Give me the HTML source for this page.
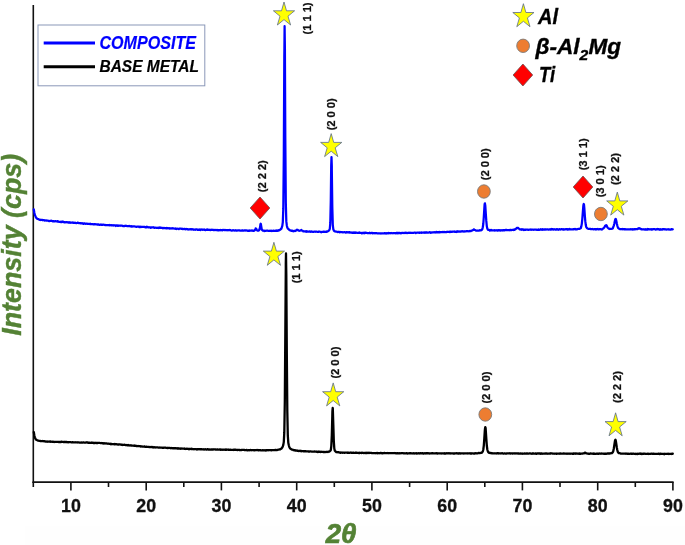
<!DOCTYPE html>
<html><head><meta charset="utf-8"><title>XRD pattern</title>
<style>
html,body{margin:0;padding:0;background:#fff;}
svg{display:block;font-family:"Liberation Sans",sans-serif;}
</style></head><body>
<svg width="685" height="545" viewBox="0 0 685 545">
<rect width="685" height="545" fill="#fff"/>
<rect x="25" y="526.5" width="660" height="18.5" fill="#fefefe"/>
<line x1="33.3" y1="5" x2="33.3" y2="483" stroke="#111" stroke-width="1.6"/>
<line x1="32.5" y1="482.2" x2="673.6" y2="482.2" stroke="#111" stroke-width="1.7"/>
<line x1="33.3" y1="482" x2="33.3" y2="487" stroke="#111" stroke-width="1.6"/>
<line x1="70.9" y1="482" x2="70.9" y2="490.4" stroke="#111" stroke-width="1.6"/>
<text x="70.9" y="511.5" text-anchor="middle" font-size="17.8" font-weight="bold" fill="#111" stroke="#111" stroke-width="0.3">10</text>
<line x1="108.5" y1="482" x2="108.5" y2="487" stroke="#111" stroke-width="1.6"/>
<line x1="146.2" y1="482" x2="146.2" y2="490.4" stroke="#111" stroke-width="1.6"/>
<text x="146.2" y="511.5" text-anchor="middle" font-size="17.8" font-weight="bold" fill="#111" stroke="#111" stroke-width="0.3">20</text>
<line x1="183.8" y1="482" x2="183.8" y2="487" stroke="#111" stroke-width="1.6"/>
<line x1="221.4" y1="482" x2="221.4" y2="490.4" stroke="#111" stroke-width="1.6"/>
<text x="221.4" y="511.5" text-anchor="middle" font-size="17.8" font-weight="bold" fill="#111" stroke="#111" stroke-width="0.3">30</text>
<line x1="259.1" y1="482" x2="259.1" y2="487" stroke="#111" stroke-width="1.6"/>
<line x1="296.7" y1="482" x2="296.7" y2="490.4" stroke="#111" stroke-width="1.6"/>
<text x="296.7" y="511.5" text-anchor="middle" font-size="17.8" font-weight="bold" fill="#111" stroke="#111" stroke-width="0.3">40</text>
<line x1="334.3" y1="482" x2="334.3" y2="487" stroke="#111" stroke-width="1.6"/>
<line x1="371.9" y1="482" x2="371.9" y2="490.4" stroke="#111" stroke-width="1.6"/>
<text x="371.9" y="511.5" text-anchor="middle" font-size="17.8" font-weight="bold" fill="#111" stroke="#111" stroke-width="0.3">50</text>
<line x1="409.6" y1="482" x2="409.6" y2="487" stroke="#111" stroke-width="1.6"/>
<line x1="447.2" y1="482" x2="447.2" y2="490.4" stroke="#111" stroke-width="1.6"/>
<text x="447.2" y="511.5" text-anchor="middle" font-size="17.8" font-weight="bold" fill="#111" stroke="#111" stroke-width="0.3">60</text>
<line x1="484.8" y1="482" x2="484.8" y2="487" stroke="#111" stroke-width="1.6"/>
<line x1="522.4" y1="482" x2="522.4" y2="490.4" stroke="#111" stroke-width="1.6"/>
<text x="522.4" y="511.5" text-anchor="middle" font-size="17.8" font-weight="bold" fill="#111" stroke="#111" stroke-width="0.3">70</text>
<line x1="560.0" y1="482" x2="560.0" y2="487" stroke="#111" stroke-width="1.6"/>
<line x1="597.7" y1="482" x2="597.7" y2="490.4" stroke="#111" stroke-width="1.6"/>
<text x="597.7" y="511.5" text-anchor="middle" font-size="17.8" font-weight="bold" fill="#111" stroke="#111" stroke-width="0.3">80</text>
<line x1="635.3" y1="482" x2="635.3" y2="487" stroke="#111" stroke-width="1.6"/>
<line x1="672.9" y1="482" x2="672.9" y2="490.4" stroke="#111" stroke-width="1.6"/>
<text x="672.9" y="511.5" text-anchor="middle" font-size="17.8" font-weight="bold" fill="#111" stroke="#111" stroke-width="0.3">90</text>
<path d="M33.8,209.43 L34.3,212.55 L34.8,214.72 L35.3,215.91 L35.8,217.18 L36.3,217.87 L36.8,218.41 L37.3,218.68 L37.8,219.04 L38.3,219.18 L38.8,219.22 L39.3,219.71 L39.8,219.84 L40.3,220.07 L40.8,219.88 L41.3,219.87 L41.8,219.92 L42.3,219.82 L42.8,220.29 L43.3,220.02 L43.8,220.06 L44.3,220.28 L44.8,220.61 L45.3,220.47 L45.8,220.33 L46.3,220.44 L46.8,220.71 L47.3,220.65 L47.8,220.61 L48.3,220.76 L48.8,220.97 L49.3,221.23 L49.8,220.78 L50.3,220.92 L50.8,220.93 L51.3,220.71 L51.8,220.98 L52.3,221.01 L52.8,221.39 L53.3,221.22 L53.8,221.02 L54.3,221.42 L54.8,221.30 L55.3,221.11 L55.8,221.33 L56.3,221.37 L56.8,221.36 L57.3,221.54 L57.8,221.22 L58.3,221.57 L58.8,221.81 L59.3,221.82 L59.8,221.90 L60.3,221.94 L60.8,222.04 L61.3,221.66 L61.8,222.01 L62.3,221.61 L62.8,221.85 L63.3,221.68 L63.8,222.19 L64.3,222.27 L64.8,222.06 L65.3,222.42 L65.8,222.06 L66.3,222.23 L66.8,222.27 L67.3,222.11 L67.8,222.39 L68.3,222.66 L68.8,222.23 L69.3,222.57 L69.8,222.44 L70.3,222.78 L70.8,222.62 L71.3,222.68 L71.8,222.72 L72.3,222.69 L72.8,222.46 L73.3,222.95 L73.8,222.54 L74.3,222.84 L74.8,222.93 L75.3,222.74 L75.8,222.93 L76.3,223.13 L76.8,222.98 L77.3,222.88 L77.8,222.59 L78.3,222.94 L78.8,223.04 L79.3,223.08 L79.8,223.05 L80.3,223.30 L80.8,223.19 L81.3,223.30 L81.8,223.46 L82.3,223.25 L82.8,223.38 L83.3,223.81 L83.8,223.64 L84.3,223.33 L84.8,223.56 L85.3,223.70 L85.8,223.85 L86.3,223.71 L86.8,223.64 L87.3,223.64 L87.8,223.90 L88.3,223.88 L88.8,223.79 L89.3,223.88 L89.8,223.88 L90.3,224.10 L90.8,223.91 L91.3,224.13 L91.8,224.23 L92.3,224.21 L92.8,224.03 L93.3,224.42 L93.8,224.13 L94.3,224.35 L94.8,224.19 L95.3,224.07 L95.8,224.42 L96.3,224.47 L96.8,224.45 L97.3,224.54 L97.8,224.43 L98.3,224.45 L98.8,224.58 L99.3,224.95 L99.8,224.81 L100.3,224.63 L100.8,224.83 L101.3,224.69 L101.8,224.72 L102.3,224.95 L102.8,224.76 L103.3,224.60 L103.8,224.75 L104.3,224.93 L104.8,224.97 L105.3,225.17 L105.8,224.88 L106.3,225.14 L106.8,225.12 L107.3,225.05 L107.8,225.23 L108.3,225.21 L108.8,225.01 L109.3,225.35 L109.8,225.01 L110.3,225.24 L110.8,225.26 L111.3,225.35 L111.8,225.19 L112.3,225.33 L112.8,225.34 L113.3,225.54 L113.8,225.28 L114.3,225.45 L114.8,225.42 L115.3,225.28 L115.8,225.94 L116.3,225.53 L116.8,225.33 L117.3,225.82 L117.8,225.45 L118.3,225.70 L118.8,225.81 L119.3,225.59 L119.8,225.65 L120.3,225.66 L120.8,225.75 L121.3,225.54 L121.8,225.62 L122.3,225.83 L122.8,226.04 L123.3,226.00 L123.8,226.20 L124.3,226.06 L124.8,225.90 L125.3,225.98 L125.8,225.70 L126.3,225.90 L126.8,225.92 L127.3,226.15 L127.8,226.24 L128.3,226.07 L128.8,226.09 L129.3,225.96 L129.8,226.21 L130.3,226.30 L130.8,226.36 L131.3,226.19 L131.8,226.66 L132.3,226.56 L132.8,226.37 L133.3,226.33 L133.8,226.39 L134.3,226.49 L134.8,226.49 L135.3,226.60 L135.8,226.67 L136.3,226.79 L136.8,226.78 L137.3,226.60 L137.8,226.71 L138.3,226.61 L138.8,226.61 L139.3,227.03 L139.8,226.68 L140.3,227.10 L140.8,226.75 L141.3,226.87 L141.8,227.03 L142.3,226.88 L142.8,226.97 L143.3,226.89 L143.8,226.88 L144.3,226.96 L144.8,226.90 L145.3,227.30 L145.8,227.03 L146.3,227.36 L146.8,226.68 L147.3,227.14 L147.8,227.25 L148.3,227.14 L148.8,227.39 L149.3,227.34 L149.8,227.22 L150.3,227.36 L150.8,227.77 L151.3,227.38 L151.8,227.42 L152.3,227.32 L152.8,227.44 L153.3,227.24 L153.8,227.44 L154.3,227.89 L154.8,227.69 L155.3,227.65 L155.8,227.75 L156.3,227.90 L156.8,227.72 L157.3,227.98 L157.8,227.85 L158.3,227.73 L158.8,228.01 L159.3,227.38 L159.8,227.69 L160.3,227.85 L160.8,227.69 L161.3,227.83 L161.8,227.78 L162.3,227.81 L162.8,228.37 L163.3,228.06 L163.8,227.98 L164.3,228.22 L164.8,228.00 L165.3,228.21 L165.8,228.15 L166.3,228.38 L166.8,227.92 L167.3,228.29 L167.8,228.21 L168.3,228.03 L168.8,228.42 L169.3,228.13 L169.8,228.56 L170.3,228.40 L170.8,228.46 L171.3,228.39 L171.8,228.54 L172.3,228.13 L172.8,228.46 L173.3,228.38 L173.8,228.55 L174.3,228.52 L174.8,228.65 L175.3,228.45 L175.8,228.90 L176.3,229.00 L176.8,228.62 L177.3,228.68 L177.8,228.76 L178.3,228.94 L178.8,229.06 L179.3,228.59 L179.8,228.71 L180.3,228.67 L180.8,228.69 L181.3,228.63 L181.8,228.97 L182.3,228.76 L182.8,229.21 L183.3,229.14 L183.8,228.85 L184.3,228.88 L184.8,228.97 L185.3,229.32 L185.8,228.99 L186.3,228.91 L186.8,229.16 L187.3,229.26 L187.8,229.12 L188.3,229.51 L188.8,229.31 L189.3,229.37 L189.8,229.19 L190.3,229.35 L190.8,229.35 L191.3,229.04 L191.8,229.48 L192.3,229.17 L192.8,229.48 L193.3,229.27 L193.8,229.86 L194.3,229.61 L194.8,229.72 L195.3,229.75 L195.8,229.40 L196.3,229.26 L196.8,229.58 L197.3,229.78 L197.8,229.67 L198.3,229.79 L198.8,229.82 L199.3,229.44 L199.8,229.74 L200.3,230.01 L200.8,229.62 L201.3,229.40 L201.8,229.69 L202.3,229.67 L202.8,229.82 L203.3,229.62 L203.8,229.78 L204.3,229.42 L204.8,229.93 L205.3,230.05 L205.8,230.02 L206.3,229.58 L206.8,229.88 L207.3,229.36 L207.8,229.89 L208.3,229.85 L208.8,229.71 L209.3,229.93 L209.8,229.91 L210.3,230.05 L210.8,229.93 L211.3,229.96 L211.8,229.62 L212.3,229.75 L212.8,229.87 L213.3,230.01 L213.8,229.97 L214.3,230.22 L214.8,229.85 L215.3,229.96 L215.8,230.05 L216.3,229.98 L216.8,230.11 L217.3,229.95 L217.8,230.27 L218.3,230.01 L218.8,230.25 L219.3,230.07 L219.8,230.32 L220.3,229.87 L220.8,230.19 L221.3,230.05 L221.8,230.16 L222.3,230.33 L222.8,229.96 L223.3,229.94 L223.8,230.01 L224.3,230.22 L224.8,229.88 L225.3,230.21 L225.8,230.00 L226.3,230.03 L226.8,230.16 L227.3,230.29 L227.8,230.14 L228.3,230.17 L228.8,230.26 L229.3,230.23 L229.8,229.85 L230.3,230.22 L230.8,230.32 L231.3,230.49 L231.8,230.65 L232.3,230.44 L232.8,230.35 L233.3,230.20 L233.8,230.37 L234.3,230.49 L234.8,230.58 L235.3,230.25 L235.8,230.44 L236.3,230.54 L236.8,230.72 L237.3,230.47 L237.8,230.35 L238.3,230.34 L238.8,230.40 L239.3,230.36 L239.8,230.61 L240.3,230.65 L240.8,230.61 L241.3,230.69 L241.8,230.44 L242.3,230.58 L242.8,230.47 L243.3,230.55 L243.8,230.74 L244.3,230.55 L244.8,230.27 L245.3,230.53 L245.8,230.47 L246.3,230.35 L246.8,230.47 L247.3,230.76 L247.8,230.88 L248.3,230.55 L248.8,230.79 L249.3,230.83 L249.8,230.46 L250.3,230.64 L250.8,230.65 L251.3,230.69 L251.8,230.40 L252.3,230.60 L252.8,230.82 L253.3,230.84 L253.8,230.88 L254.3,230.36 L254.8,230.20 L255.3,229.11 L255.6,228.38 L255.8,228.55 L256.1,228.54 L256.3,229.08 L256.8,229.87 L257.3,230.58 L257.8,230.58 L258.3,230.49 L258.8,230.59 L259.3,230.05 L259.8,228.36 L260.3,225.54 L260.4,224.41 L260.7,223.71 L260.8,223.85 L260.9,224.25 L261.3,226.59 L261.8,229.61 L262.3,230.18 L262.8,230.60 L263.3,230.51 L263.8,230.65 L264.3,231.02 L264.8,230.95 L265.3,230.73 L265.8,230.84 L266.3,230.72 L266.8,230.73 L267.3,230.72 L267.8,230.73 L268.3,230.93 L268.8,230.98 L269.3,230.96 L269.8,230.86 L270.3,230.67 L270.8,230.87 L271.3,230.73 L271.8,231.02 L272.3,230.96 L272.8,230.98 L273.3,230.79 L273.8,230.55 L274.3,230.97 L274.8,230.99 L275.3,230.54 L275.8,230.76 L276.3,230.89 L276.8,230.48 L277.3,230.87 L277.8,230.46 L278.3,230.24 L278.8,230.51 L279.3,230.17 L279.8,229.80 L280.3,229.74 L280.8,228.86 L281.3,228.83 L281.8,227.43 L282.3,225.95 L282.8,222.25 L283.3,208.64 L283.8,156.23 L284.3,57.02 L284.4,48.62 L284.6,26.23 L284.8,40.83 L284.9,48.47 L285.3,138.25 L285.8,202.33 L286.3,221.13 L286.8,225.47 L287.3,227.56 L287.8,228.55 L288.3,229.02 L288.8,229.35 L289.3,229.88 L289.8,230.29 L290.3,230.43 L290.8,230.44 L291.3,230.86 L291.8,230.51 L292.3,230.66 L292.8,230.94 L293.3,231.32 L293.8,231.07 L294.3,230.85 L294.8,231.07 L295.3,230.96 L295.8,230.75 L296.3,230.16 L296.8,229.74 L296.9,229.82 L297.2,229.82 L297.3,230.02 L297.4,230.15 L297.8,229.91 L298.3,230.33 L298.8,230.70 L299.3,230.76 L299.8,230.74 L300.3,230.48 L300.8,230.25 L300.8,230.41 L301.0,230.16 L301.2,230.07 L301.3,230.01 L301.8,230.39 L302.3,230.74 L302.8,230.86 L303.3,231.43 L303.8,231.44 L304.3,231.38 L304.8,231.34 L305.3,231.25 L305.8,231.37 L306.3,231.83 L306.8,231.19 L307.3,231.58 L307.8,231.69 L308.3,231.61 L308.8,231.55 L309.3,231.73 L309.8,231.44 L310.3,231.72 L310.8,231.87 L311.3,231.48 L311.8,231.53 L312.3,231.69 L312.8,231.83 L313.3,231.90 L313.8,231.80 L314.3,231.59 L314.8,231.53 L315.3,231.75 L315.8,231.79 L316.3,231.55 L316.8,231.75 L317.3,231.80 L317.8,231.92 L318.3,231.59 L318.8,231.85 L319.3,231.57 L319.8,231.70 L320.3,231.75 L320.8,232.01 L321.3,232.30 L321.8,231.81 L322.3,231.84 L322.8,231.92 L323.3,231.53 L323.8,231.86 L324.3,231.53 L324.8,231.97 L325.3,231.91 L325.8,231.72 L326.3,231.46 L326.8,231.78 L327.3,231.45 L327.8,231.28 L328.3,231.13 L328.8,230.41 L329.3,230.14 L329.8,228.83 L330.3,222.91 L330.8,200.36 L331.2,165.75 L331.3,163.01 L331.5,157.08 L331.8,165.92 L331.8,169.24 L332.3,206.97 L332.8,225.08 L333.3,229.21 L333.8,230.44 L334.3,231.08 L334.8,231.46 L335.3,231.46 L335.8,231.55 L336.3,231.63 L336.8,231.78 L337.3,231.93 L337.8,232.05 L338.3,231.87 L338.8,232.00 L339.3,231.85 L339.8,232.24 L340.3,232.00 L340.8,232.15 L341.3,232.01 L341.8,232.10 L342.3,232.06 L342.8,232.47 L343.3,232.27 L343.8,232.21 L344.3,232.11 L344.8,232.18 L345.3,232.39 L345.8,232.58 L346.3,232.10 L346.8,232.20 L347.3,232.34 L347.8,232.29 L348.3,232.14 L348.8,232.42 L349.3,232.56 L349.8,232.20 L350.3,232.51 L350.8,232.64 L351.3,232.66 L351.8,232.45 L352.3,232.91 L352.8,232.64 L353.3,232.44 L353.8,232.74 L354.3,232.42 L354.8,232.76 L355.3,232.43 L355.8,232.78 L356.3,232.57 L356.8,232.86 L357.3,232.81 L357.8,232.78 L358.3,232.74 L358.8,232.92 L359.3,232.47 L359.8,232.84 L360.3,232.86 L360.8,232.90 L361.3,232.95 L361.8,233.43 L362.3,232.87 L362.8,233.00 L363.3,232.91 L363.8,233.15 L364.3,232.59 L364.8,233.20 L365.3,232.83 L365.8,232.60 L366.3,232.80 L366.8,232.96 L367.3,233.04 L367.8,233.01 L368.3,233.17 L368.8,233.04 L369.3,233.06 L369.8,232.74 L370.3,233.17 L370.8,233.27 L371.3,233.06 L371.8,232.84 L372.3,232.94 L372.8,233.44 L373.3,233.09 L373.8,233.10 L374.3,233.09 L374.8,233.34 L375.3,233.15 L375.8,233.12 L376.3,233.04 L376.8,233.28 L377.3,233.47 L377.8,233.30 L378.3,233.48 L378.8,233.38 L379.3,233.39 L379.8,233.41 L380.3,233.39 L380.8,233.54 L381.3,233.45 L381.8,233.27 L382.3,233.37 L382.8,233.33 L383.3,233.41 L383.8,233.35 L384.3,233.38 L384.8,233.07 L385.3,233.36 L385.8,233.50 L386.3,233.06 L386.8,233.53 L387.3,233.31 L387.8,233.22 L388.3,232.95 L388.8,233.41 L389.3,233.07 L389.8,233.13 L390.3,233.29 L390.8,233.03 L391.3,233.03 L391.8,233.00 L392.3,233.15 L392.8,233.26 L393.3,233.22 L393.8,233.21 L394.3,233.08 L394.8,233.15 L395.3,233.01 L395.8,233.43 L396.3,233.13 L396.8,232.78 L397.3,232.91 L397.8,233.33 L398.3,232.84 L398.8,232.98 L399.3,233.11 L399.8,232.86 L400.3,233.20 L400.8,233.29 L401.3,232.88 L401.8,233.18 L402.3,232.85 L402.8,232.82 L403.3,233.01 L403.8,233.00 L404.3,232.86 L404.8,233.08 L405.3,232.70 L405.8,232.79 L406.3,232.75 L406.8,233.03 L407.3,233.03 L407.8,233.00 L408.3,232.68 L408.8,232.90 L409.3,232.94 L409.8,232.60 L410.3,232.72 L410.8,232.94 L411.3,232.94 L411.8,232.86 L412.3,232.90 L412.8,232.85 L413.3,232.82 L413.8,232.77 L414.3,232.64 L414.8,232.73 L415.3,232.69 L415.8,233.12 L416.3,232.78 L416.8,232.73 L417.3,232.68 L417.8,232.69 L418.3,232.66 L418.8,232.78 L419.3,232.68 L419.8,232.81 L420.3,232.56 L420.8,232.71 L421.3,232.79 L421.8,232.46 L422.3,232.66 L422.8,232.66 L423.3,232.56 L423.8,232.53 L424.3,232.30 L424.8,232.77 L425.3,232.43 L425.8,232.37 L426.3,232.66 L426.8,232.26 L427.3,232.69 L427.8,232.60 L428.3,232.62 L428.8,232.49 L429.3,232.31 L429.8,232.19 L430.3,232.72 L430.8,232.39 L431.3,232.37 L431.8,232.69 L432.3,232.32 L432.8,232.36 L433.3,232.35 L433.8,232.35 L434.3,232.19 L434.8,232.25 L435.3,232.52 L435.8,232.42 L436.3,231.81 L436.8,231.96 L437.3,232.31 L437.8,232.22 L438.3,232.16 L438.8,232.37 L439.3,231.90 L439.8,232.36 L440.3,232.18 L440.8,232.23 L441.3,232.16 L441.8,232.24 L442.3,232.05 L442.8,231.99 L443.3,232.18 L443.8,232.07 L444.3,231.82 L444.8,232.22 L445.3,232.18 L445.8,232.20 L446.3,231.97 L446.8,232.00 L447.3,231.86 L447.8,231.75 L448.3,231.90 L448.8,231.90 L449.3,231.75 L449.8,232.13 L450.3,231.57 L450.8,231.68 L451.3,231.68 L451.8,231.98 L452.3,231.72 L452.8,231.69 L453.3,231.58 L453.8,231.59 L454.3,231.48 L454.8,231.84 L455.3,231.76 L455.8,231.80 L456.3,231.52 L456.8,232.01 L457.3,231.43 L457.8,231.24 L458.3,231.51 L458.8,231.56 L459.3,231.64 L459.8,231.34 L460.3,231.58 L460.8,231.74 L461.3,231.31 L461.8,231.31 L462.3,231.14 L462.8,231.44 L463.3,231.52 L463.8,231.48 L464.3,231.48 L464.8,231.55 L465.3,231.32 L465.8,231.44 L466.3,231.11 L466.8,231.12 L467.3,231.26 L467.8,231.07 L468.3,231.27 L468.8,231.37 L469.3,231.19 L469.8,230.97 L470.3,230.93 L470.8,231.20 L471.3,230.74 L471.8,230.71 L472.3,230.39 L472.8,230.10 L473.3,229.92 L473.8,229.44 L473.8,229.29 L474.0,229.72 L474.2,229.54 L474.3,229.64 L474.8,229.74 L475.3,230.17 L475.8,230.52 L476.3,230.74 L476.8,230.58 L477.3,230.61 L477.8,230.73 L478.3,230.68 L478.8,230.69 L479.3,230.42 L479.8,230.09 L480.3,230.43 L480.8,230.35 L481.3,230.13 L481.8,229.96 L482.3,229.14 L482.8,227.26 L483.3,223.75 L483.8,217.03 L484.3,209.02 L484.6,204.41 L484.8,203.52 L484.9,203.30 L485.1,204.37 L485.3,205.71 L485.8,213.75 L486.3,220.88 L486.8,226.12 L487.3,228.53 L487.8,229.66 L488.3,229.80 L488.8,229.84 L489.3,229.83 L489.8,230.49 L490.3,230.01 L490.8,230.43 L491.3,229.95 L491.8,230.33 L492.3,230.47 L492.8,230.42 L493.3,230.37 L493.8,230.25 L494.3,230.23 L494.8,230.54 L495.3,230.45 L495.8,230.35 L496.3,230.40 L496.8,230.21 L497.3,230.51 L497.8,230.54 L498.3,230.21 L498.8,230.34 L499.3,230.48 L499.8,230.20 L500.3,230.62 L500.8,230.52 L501.3,230.22 L501.8,230.41 L502.3,230.51 L502.8,230.03 L503.3,230.32 L503.8,230.18 L504.3,230.16 L504.8,230.29 L505.3,230.09 L505.8,229.93 L506.3,229.91 L506.8,230.12 L507.3,230.21 L507.8,230.09 L508.3,230.06 L508.8,230.06 L509.3,230.26 L509.8,230.12 L510.3,229.90 L510.8,229.95 L511.3,230.17 L511.8,229.87 L512.3,229.87 L512.8,229.90 L513.3,229.70 L513.8,229.97 L514.3,229.39 L514.8,229.83 L515.3,229.31 L515.8,228.85 L516.3,228.69 L516.8,227.95 L517.3,228.00 L517.4,228.02 L517.6,227.76 L517.8,227.81 L517.9,228.03 L518.3,228.00 L518.8,228.49 L519.3,228.94 L519.8,229.45 L520.3,229.34 L520.8,229.56 L521.3,229.81 L521.8,229.26 L522.3,229.64 L522.8,229.39 L523.3,229.41 L523.8,230.02 L524.3,229.74 L524.8,229.94 L525.3,229.67 L525.8,229.79 L526.3,229.63 L526.8,229.61 L527.3,229.68 L527.8,229.71 L528.3,229.93 L528.8,229.65 L529.3,229.74 L529.8,229.64 L530.3,229.70 L530.8,229.46 L531.3,229.84 L531.8,229.58 L532.3,229.66 L532.8,229.62 L533.3,229.80 L533.8,229.73 L534.3,229.64 L534.8,229.66 L535.3,229.68 L535.8,229.74 L536.3,229.70 L536.8,229.82 L537.3,229.87 L537.8,229.70 L538.3,229.39 L538.8,229.87 L539.3,229.93 L539.8,229.53 L540.3,229.51 L540.8,229.25 L541.3,229.69 L541.8,229.40 L542.3,229.85 L542.8,229.16 L543.3,229.56 L543.8,229.65 L544.3,229.48 L544.8,229.41 L545.3,229.57 L545.8,229.44 L546.3,229.46 L546.8,229.51 L547.3,229.42 L547.8,229.47 L548.3,229.62 L548.8,229.43 L549.3,229.51 L549.8,229.36 L550.3,229.62 L550.8,229.27 L551.3,229.62 L551.8,228.98 L552.3,229.31 L552.8,229.20 L553.3,229.61 L553.8,229.48 L554.3,229.22 L554.8,229.34 L555.3,229.64 L555.8,229.41 L556.3,229.50 L556.8,229.16 L557.3,229.16 L557.8,229.48 L558.3,229.76 L558.8,229.29 L559.3,229.47 L559.8,229.22 L560.3,229.57 L560.8,229.29 L561.3,229.29 L561.8,229.06 L562.3,229.29 L562.8,229.39 L563.3,229.58 L563.8,229.17 L564.3,229.51 L564.8,229.30 L565.3,229.30 L565.8,229.19 L566.3,229.07 L566.8,229.15 L567.3,229.60 L567.8,229.14 L568.3,229.26 L568.8,229.50 L569.3,228.98 L569.8,229.39 L570.3,229.23 L570.8,229.34 L571.3,229.44 L571.8,229.27 L572.3,229.25 L572.8,229.39 L573.3,229.37 L573.8,229.14 L574.3,229.21 L574.8,229.01 L575.3,229.41 L575.8,228.99 L576.3,229.18 L576.8,229.40 L577.3,229.21 L577.8,228.98 L578.3,228.84 L578.8,228.77 L579.3,228.91 L579.8,228.65 L580.3,228.33 L580.8,228.20 L581.3,226.42 L581.8,223.84 L582.3,219.09 L582.8,212.48 L583.3,206.05 L583.5,204.70 L583.7,204.00 L583.8,204.11 L584.0,204.69 L584.3,207.91 L584.8,215.39 L585.3,221.17 L585.8,225.09 L586.3,227.14 L586.8,227.85 L587.3,228.31 L587.8,228.67 L588.3,228.74 L588.8,228.95 L589.3,228.83 L589.8,228.99 L590.3,228.90 L590.8,229.06 L591.3,229.18 L591.8,229.12 L592.3,228.95 L592.8,229.17 L593.3,229.23 L593.8,229.40 L594.3,229.22 L594.8,229.17 L595.3,229.05 L595.8,229.56 L596.3,229.10 L596.8,229.07 L597.3,229.22 L597.8,228.95 L598.3,229.41 L598.8,229.27 L599.3,229.31 L599.8,229.06 L600.3,229.12 L600.8,229.32 L601.3,229.30 L601.8,229.55 L602.3,229.18 L602.8,228.52 L603.3,228.52 L603.8,227.94 L604.3,227.48 L604.8,226.46 L605.3,225.79 L605.6,225.32 L605.8,225.40 L605.9,225.52 L606.1,225.26 L606.3,225.15 L606.8,225.96 L607.3,227.19 L607.8,227.73 L608.3,228.21 L608.8,228.47 L609.3,229.00 L609.8,228.97 L610.3,228.94 L610.8,228.86 L611.3,228.88 L611.8,228.75 L612.3,228.69 L612.8,228.37 L613.3,226.99 L613.8,225.60 L614.3,223.69 L614.8,221.29 L615.3,219.16 L615.4,219.20 L615.6,218.97 L615.8,219.14 L615.9,219.22 L616.3,220.82 L616.8,223.39 L617.3,225.60 L617.8,227.20 L618.3,228.13 L618.8,228.48 L619.3,228.78 L619.8,229.10 L620.3,229.08 L620.8,229.25 L621.3,229.20 L621.8,229.20 L622.3,229.29 L622.8,228.99 L623.3,229.23 L623.8,229.17 L624.3,229.41 L624.8,229.18 L625.3,229.33 L625.8,229.23 L626.3,229.38 L626.8,229.43 L627.3,229.28 L627.8,229.34 L628.3,229.35 L628.8,229.45 L629.3,229.28 L629.8,229.34 L630.3,229.27 L630.8,229.18 L631.3,229.36 L631.8,229.40 L632.3,229.21 L632.8,229.59 L633.3,229.21 L633.8,229.45 L634.3,229.38 L634.8,229.04 L635.3,229.30 L635.8,229.02 L636.3,229.19 L636.8,229.21 L637.3,229.24 L637.8,228.86 L638.3,228.27 L638.8,228.33 L638.8,228.62 L639.0,228.40 L639.2,228.67 L639.3,228.28 L639.8,228.47 L640.3,228.57 L640.8,228.92 L641.3,229.34 L641.8,229.08 L642.3,229.42 L642.8,229.39 L643.3,229.46 L643.8,229.30 L644.3,229.35 L644.8,229.69 L645.3,229.15 L645.8,229.48 L646.3,229.60 L646.8,229.43 L647.3,229.63 L647.8,228.89 L648.3,229.32 L648.8,229.18 L649.3,229.30 L649.8,229.35 L650.3,229.45 L650.8,229.23 L651.3,229.51 L651.8,229.12 L652.3,229.52 L652.8,229.33 L653.3,229.09 L653.8,229.09 L654.3,229.08 L654.8,229.21 L655.3,229.39 L655.8,229.58 L656.3,229.50 L656.8,229.16 L657.3,229.00 L657.8,229.32 L658.3,229.14 L658.8,229.34 L659.3,229.26 L659.8,229.78 L660.3,229.09 L660.8,229.42 L661.3,229.67 L661.8,229.30 L662.3,229.24 L662.8,229.64 L663.3,229.03 L663.8,229.09 L664.3,229.17 L664.8,229.43 L665.3,229.49 L665.8,229.35 L666.3,229.72 L666.8,229.34 L667.3,229.37 L667.8,229.32 L668.3,229.57 L668.8,229.37 L669.3,229.31 L669.8,229.65 L670.3,229.58 L670.8,229.54 L671.3,229.17 L671.8,229.20 L672.3,229.34 L672.8,229.34" fill="none" stroke="#0000ff" stroke-width="2.25" stroke-linejoin="round" stroke-linecap="round"/>
<path d="M33.8,432.05 L34.3,435.29 L34.8,437.38 L35.3,438.41 L35.8,439.34 L36.3,439.76 L36.8,440.08 L37.3,440.33 L37.8,440.62 L38.3,440.69 L38.8,440.67 L39.3,440.90 L39.8,440.96 L40.3,441.05 L40.8,441.01 L41.3,441.20 L41.8,441.16 L42.3,441.02 L42.8,441.03 L43.3,441.06 L43.8,441.31 L44.3,441.21 L44.8,441.29 L45.3,441.36 L45.8,441.55 L46.3,441.70 L46.8,441.46 L47.3,441.75 L47.8,441.61 L48.3,441.72 L48.8,441.58 L49.3,441.50 L49.8,441.74 L50.3,441.86 L50.8,441.53 L51.3,441.72 L51.8,441.77 L52.3,441.83 L52.8,441.64 L53.3,441.71 L53.8,441.91 L54.3,442.02 L54.8,441.83 L55.3,441.95 L55.8,441.86 L56.3,441.91 L56.8,441.82 L57.3,441.85 L57.8,441.82 L58.3,441.92 L58.8,442.05 L59.3,441.95 L59.8,442.02 L60.3,441.88 L60.8,442.05 L61.3,441.60 L61.8,441.82 L62.3,441.97 L62.8,441.80 L63.3,442.10 L63.8,442.07 L64.3,441.95 L64.8,442.08 L65.3,441.90 L65.8,441.98 L66.3,442.06 L66.8,441.92 L67.3,442.26 L67.8,442.06 L68.3,442.28 L68.8,442.15 L69.3,442.22 L69.8,442.08 L70.3,442.17 L70.8,442.17 L71.3,442.26 L71.8,442.41 L72.3,442.19 L72.8,442.25 L73.3,442.33 L73.8,442.40 L74.3,442.30 L74.8,442.28 L75.3,442.27 L75.8,442.35 L76.3,442.40 L76.8,442.30 L77.3,442.36 L77.8,442.50 L78.3,442.42 L78.8,442.36 L79.3,442.53 L79.8,442.55 L80.3,442.55 L80.8,442.57 L81.3,442.45 L81.8,442.54 L82.3,442.56 L82.8,442.55 L83.3,442.34 L83.8,442.56 L84.3,442.62 L84.8,442.65 L85.3,442.57 L85.8,442.62 L86.3,442.42 L86.8,442.47 L87.3,442.30 L87.8,442.65 L88.3,442.88 L88.8,442.91 L89.3,442.58 L89.8,442.80 L90.3,442.89 L90.8,442.72 L91.3,442.53 L91.8,442.95 L92.3,442.75 L92.8,442.76 L93.3,443.03 L93.8,442.89 L94.3,442.95 L94.8,443.05 L95.3,442.86 L95.8,442.77 L96.3,443.00 L96.8,442.91 L97.3,443.02 L97.8,442.99 L98.3,442.86 L98.8,442.97 L99.3,442.94 L99.8,442.97 L100.3,443.02 L100.8,443.11 L101.3,443.13 L101.8,442.99 L102.3,443.26 L102.8,443.05 L103.3,443.53 L103.8,443.22 L104.3,443.34 L104.8,443.55 L105.3,443.40 L105.8,443.32 L106.3,443.34 L106.8,443.58 L107.3,443.64 L107.8,443.73 L108.3,443.70 L108.8,443.65 L109.3,443.80 L109.8,443.96 L110.3,443.73 L110.8,444.30 L111.3,443.86 L111.8,444.10 L112.3,444.21 L112.8,444.14 L113.3,444.10 L113.8,444.19 L114.3,444.31 L114.8,443.87 L115.3,444.28 L115.8,444.22 L116.3,444.22 L116.8,444.36 L117.3,444.41 L117.8,444.49 L118.3,444.40 L118.8,444.64 L119.3,444.29 L119.8,444.47 L120.3,444.48 L120.8,444.68 L121.3,444.64 L121.8,444.81 L122.3,444.69 L122.8,444.98 L123.3,444.95 L123.8,444.84 L124.3,444.74 L124.8,444.84 L125.3,444.84 L125.8,445.21 L126.3,445.19 L126.8,444.99 L127.3,445.41 L127.8,445.19 L128.3,444.99 L128.8,445.43 L129.3,445.50 L129.8,445.38 L130.3,445.32 L130.8,445.61 L131.3,445.45 L131.8,445.55 L132.3,445.65 L132.8,445.67 L133.3,445.62 L133.8,445.60 L134.3,445.85 L134.8,445.54 L135.3,445.89 L135.8,445.92 L136.3,446.00 L136.8,445.93 L137.3,446.04 L137.8,446.16 L138.3,445.98 L138.8,446.15 L139.3,446.23 L139.8,446.08 L140.3,446.16 L140.8,446.51 L141.3,446.48 L141.8,446.31 L142.3,446.53 L142.8,446.54 L143.3,446.70 L143.8,446.71 L144.3,446.32 L144.8,446.62 L145.3,446.86 L145.8,446.94 L146.3,446.71 L146.8,446.68 L147.3,446.90 L147.8,446.83 L148.3,446.95 L148.8,446.86 L149.3,447.13 L149.8,447.15 L150.3,447.17 L150.8,447.00 L151.3,446.96 L151.8,447.03 L152.3,447.26 L152.8,447.01 L153.3,447.33 L153.8,447.49 L154.3,447.22 L154.8,447.30 L155.3,447.46 L155.8,447.48 L156.3,447.32 L156.8,447.39 L157.3,447.45 L157.8,447.43 L158.3,447.55 L158.8,447.55 L159.3,447.69 L159.8,447.35 L160.3,447.72 L160.8,447.70 L161.3,447.61 L161.8,447.70 L162.3,447.79 L162.8,447.73 L163.3,447.69 L163.8,447.78 L164.3,447.68 L164.8,447.63 L165.3,447.71 L165.8,447.74 L166.3,447.88 L166.8,447.98 L167.3,447.93 L167.8,448.10 L168.3,447.94 L168.8,447.90 L169.3,447.91 L169.8,447.91 L170.3,448.01 L170.8,448.23 L171.3,447.92 L171.8,448.18 L172.3,448.14 L172.8,448.26 L173.3,448.13 L173.8,448.30 L174.3,448.17 L174.8,448.33 L175.3,448.05 L175.8,448.36 L176.3,448.42 L176.8,448.16 L177.3,448.48 L177.8,448.26 L178.3,448.54 L178.8,448.44 L179.3,448.55 L179.8,448.54 L180.3,448.37 L180.8,448.73 L181.3,448.71 L181.8,448.46 L182.3,448.68 L182.8,448.69 L183.3,448.58 L183.8,448.56 L184.3,448.86 L184.8,448.68 L185.3,448.86 L185.8,449.00 L186.3,448.86 L186.8,448.71 L187.3,448.96 L187.8,448.70 L188.3,448.78 L188.8,449.27 L189.3,448.84 L189.8,449.00 L190.3,448.86 L190.8,448.99 L191.3,449.06 L191.8,448.74 L192.3,449.00 L192.8,449.18 L193.3,449.23 L193.8,449.19 L194.3,449.06 L194.8,449.24 L195.3,449.15 L195.8,449.12 L196.3,449.23 L196.8,449.51 L197.3,449.14 L197.8,449.38 L198.3,449.29 L198.8,449.09 L199.3,449.17 L199.8,449.27 L200.3,449.24 L200.8,449.34 L201.3,449.20 L201.8,449.20 L202.3,449.45 L202.8,449.34 L203.3,449.25 L203.8,449.36 L204.3,449.59 L204.8,449.31 L205.3,449.21 L205.8,449.51 L206.3,449.64 L206.8,449.57 L207.3,449.26 L207.8,449.18 L208.3,449.59 L208.8,449.43 L209.3,449.52 L209.8,449.44 L210.3,449.68 L210.8,449.49 L211.3,449.45 L211.8,449.52 L212.3,449.37 L212.8,449.54 L213.3,449.52 L213.8,449.28 L214.3,449.41 L214.8,449.40 L215.3,449.37 L215.8,449.61 L216.3,449.71 L216.8,449.63 L217.3,449.42 L217.8,449.39 L218.3,449.71 L218.8,449.59 L219.3,449.62 L219.8,449.48 L220.3,449.41 L220.8,449.92 L221.3,449.59 L221.8,449.65 L222.3,449.55 L222.8,449.88 L223.3,449.66 L223.8,449.69 L224.3,449.72 L224.8,449.73 L225.3,449.91 L225.8,449.53 L226.3,449.83 L226.8,449.69 L227.3,449.72 L227.8,449.71 L228.3,449.84 L228.8,449.64 L229.3,449.74 L229.8,449.88 L230.3,449.75 L230.8,449.77 L231.3,449.89 L231.8,449.86 L232.3,449.82 L232.8,449.87 L233.3,449.77 L233.8,449.99 L234.3,449.76 L234.8,449.71 L235.3,449.96 L235.8,449.76 L236.3,449.81 L236.8,449.91 L237.3,450.03 L237.8,449.89 L238.3,449.91 L238.8,449.92 L239.3,450.02 L239.8,449.92 L240.3,450.02 L240.8,450.17 L241.3,449.98 L241.8,449.98 L242.3,449.92 L242.8,449.95 L243.3,449.90 L243.8,449.92 L244.3,449.99 L244.8,450.11 L245.3,450.14 L245.8,450.03 L246.3,450.13 L246.8,449.95 L247.3,450.36 L247.8,450.42 L248.3,450.11 L248.8,450.20 L249.3,450.16 L249.8,450.25 L250.3,450.08 L250.8,449.98 L251.3,450.26 L251.8,450.04 L252.3,450.22 L252.8,450.07 L253.3,450.09 L253.8,450.31 L254.3,450.39 L254.8,450.18 L255.3,450.15 L255.8,450.24 L256.3,450.14 L256.8,450.01 L257.3,450.21 L257.8,449.95 L258.3,450.28 L258.8,450.17 L259.3,450.25 L259.8,450.06 L260.3,450.15 L260.8,450.31 L261.3,450.41 L261.8,450.35 L262.3,450.29 L262.8,450.12 L263.3,450.32 L263.8,450.27 L264.3,450.22 L264.8,450.41 L265.3,450.16 L265.8,450.47 L266.3,450.18 L266.8,450.18 L267.3,450.24 L267.8,450.10 L268.3,450.20 L268.8,450.26 L269.3,450.04 L269.8,450.14 L270.3,450.07 L270.8,450.18 L271.3,450.36 L271.8,450.16 L272.3,450.18 L272.8,450.22 L273.3,450.04 L273.8,450.18 L274.3,450.07 L274.8,450.04 L275.3,449.88 L275.8,449.98 L276.3,450.14 L276.8,450.11 L277.3,449.88 L277.8,449.85 L278.3,449.72 L278.8,449.54 L279.3,449.33 L279.8,449.59 L280.3,449.07 L280.8,448.96 L281.3,448.78 L281.8,448.08 L282.3,447.45 L282.8,446.53 L283.3,444.90 L283.8,441.86 L284.3,432.43 L284.8,402.57 L285.3,336.26 L285.8,267.96 L285.8,262.91 L286.0,253.51 L286.2,268.04 L286.3,273.91 L286.8,352.22 L287.3,411.08 L287.8,435.40 L288.3,442.84 L288.8,445.23 L289.3,446.94 L289.8,447.88 L290.3,448.62 L290.8,448.80 L291.3,449.21 L291.8,449.56 L292.3,449.70 L292.8,449.74 L293.3,450.17 L293.8,450.14 L294.3,450.32 L294.8,450.24 L295.3,450.56 L295.8,450.48 L296.3,450.49 L296.8,450.73 L297.3,450.82 L297.8,450.62 L298.3,450.90 L298.8,451.02 L299.3,450.89 L299.8,450.73 L300.3,451.00 L300.8,451.09 L301.3,450.88 L301.8,451.23 L302.3,451.04 L302.8,451.07 L303.3,451.25 L303.8,451.17 L304.3,451.32 L304.8,451.19 L305.3,451.27 L305.8,451.25 L306.3,451.30 L306.8,451.36 L307.3,451.38 L307.8,451.31 L308.3,451.48 L308.8,451.38 L309.3,451.55 L309.8,451.51 L310.3,451.44 L310.8,451.39 L311.3,451.50 L311.8,451.68 L312.3,451.56 L312.8,451.68 L313.3,451.57 L313.8,451.56 L314.3,451.54 L314.8,451.41 L315.3,451.70 L315.8,451.68 L316.3,451.69 L316.8,451.81 L317.3,451.62 L317.8,451.96 L318.3,451.60 L318.8,451.82 L319.3,451.66 L319.8,451.79 L320.3,451.98 L320.8,451.68 L321.3,451.89 L321.8,451.90 L322.3,451.92 L322.8,451.94 L323.3,452.02 L323.8,451.99 L324.3,451.98 L324.8,452.05 L325.3,452.02 L325.8,451.92 L326.3,451.78 L326.8,452.01 L327.3,451.84 L327.8,452.04 L328.3,451.71 L328.8,451.54 L329.3,451.67 L329.8,451.21 L330.3,450.71 L330.8,450.02 L331.3,446.11 L331.8,435.47 L332.3,416.39 L332.4,411.63 L332.7,407.92 L332.8,408.31 L332.9,411.60 L333.3,424.31 L333.8,441.00 L334.3,448.48 L334.8,450.78 L335.3,451.26 L335.8,451.64 L336.3,452.15 L336.8,452.14 L337.3,452.26 L337.8,452.08 L338.3,452.17 L338.8,452.34 L339.3,452.43 L339.8,452.56 L340.3,452.86 L340.8,452.41 L341.3,452.53 L341.8,452.67 L342.3,452.64 L342.8,452.76 L343.3,452.60 L343.8,452.54 L344.3,452.91 L344.8,452.73 L345.3,452.54 L345.8,452.65 L346.3,452.69 L346.8,452.53 L347.3,452.81 L347.8,452.74 L348.3,452.69 L348.8,452.66 L349.3,452.94 L349.8,452.74 L350.3,452.67 L350.8,452.52 L351.3,452.64 L351.8,452.86 L352.3,452.96 L352.8,452.65 L353.3,452.55 L353.8,452.81 L354.3,452.80 L354.8,452.92 L355.3,452.74 L355.8,452.84 L356.3,452.61 L356.8,452.69 L357.3,452.78 L357.8,452.80 L358.3,452.92 L358.8,453.01 L359.3,452.70 L359.8,453.07 L360.3,452.79 L360.8,452.83 L361.3,453.02 L361.8,452.61 L362.3,452.73 L362.8,452.81 L363.3,452.92 L363.8,453.05 L364.3,453.05 L364.8,452.82 L365.3,453.02 L365.8,452.89 L366.3,453.12 L366.8,452.92 L367.3,453.08 L367.8,452.84 L368.3,453.06 L368.8,452.81 L369.3,452.99 L369.8,452.79 L370.3,452.97 L370.8,452.90 L371.3,452.88 L371.8,453.03 L372.3,453.10 L372.8,453.03 L373.3,453.06 L373.8,453.11 L374.3,453.18 L374.8,453.16 L375.3,453.09 L375.8,453.28 L376.3,452.99 L376.8,453.15 L377.3,452.92 L377.8,453.35 L378.3,453.04 L378.8,453.09 L379.3,453.25 L379.8,453.06 L380.3,452.99 L380.8,452.87 L381.3,453.07 L381.8,453.35 L382.3,453.13 L382.8,453.32 L383.3,453.22 L383.8,453.07 L384.3,452.96 L384.8,453.11 L385.3,453.21 L385.8,453.12 L386.3,453.17 L386.8,453.22 L387.3,453.12 L387.8,452.99 L388.3,453.13 L388.8,453.24 L389.3,453.08 L389.8,453.06 L390.3,453.07 L390.8,453.17 L391.3,453.18 L391.8,453.20 L392.3,453.06 L392.8,453.22 L393.3,453.14 L393.8,453.11 L394.3,453.01 L394.8,453.10 L395.3,453.16 L395.8,453.26 L396.3,453.30 L396.8,453.26 L397.3,453.29 L397.8,453.13 L398.3,453.36 L398.8,453.37 L399.3,453.36 L399.8,453.22 L400.3,453.28 L400.8,453.23 L401.3,453.13 L401.8,453.25 L402.3,453.10 L402.8,453.08 L403.3,453.36 L403.8,453.36 L404.3,453.39 L404.8,453.24 L405.3,453.30 L405.8,453.36 L406.3,453.25 L406.8,453.05 L407.3,453.57 L407.8,453.45 L408.3,453.45 L408.8,453.31 L409.3,453.21 L409.8,453.31 L410.3,453.34 L410.8,453.14 L411.3,453.25 L411.8,453.38 L412.3,453.49 L412.8,453.39 L413.3,453.26 L413.8,453.16 L414.3,453.56 L414.8,453.33 L415.3,453.41 L415.8,453.32 L416.3,453.16 L416.8,453.58 L417.3,453.40 L417.8,453.47 L418.3,453.23 L418.8,453.32 L419.3,453.49 L419.8,453.28 L420.3,453.24 L420.8,453.19 L421.3,453.17 L421.8,453.43 L422.3,453.32 L422.8,453.11 L423.3,453.51 L423.8,453.49 L424.3,453.47 L424.8,453.11 L425.3,453.35 L425.8,453.49 L426.3,453.21 L426.8,453.24 L427.3,453.31 L427.8,453.10 L428.3,453.37 L428.8,453.46 L429.3,453.42 L429.8,453.52 L430.3,453.35 L430.8,453.34 L431.3,453.32 L431.8,453.26 L432.3,453.22 L432.8,453.26 L433.3,453.34 L433.8,453.28 L434.3,453.36 L434.8,453.36 L435.3,453.43 L435.8,453.29 L436.3,453.10 L436.8,453.24 L437.3,453.58 L437.8,453.44 L438.3,453.31 L438.8,453.33 L439.3,453.35 L439.8,453.30 L440.3,453.38 L440.8,453.44 L441.3,453.51 L441.8,453.32 L442.3,453.33 L442.8,453.32 L443.3,453.37 L443.8,453.49 L444.3,453.27 L444.8,453.63 L445.3,453.43 L445.8,453.50 L446.3,453.26 L446.8,453.32 L447.3,453.31 L447.8,453.37 L448.3,453.13 L448.8,453.43 L449.3,453.17 L449.8,453.42 L450.3,453.50 L450.8,453.37 L451.3,453.35 L451.8,453.36 L452.3,453.35 L452.8,453.41 L453.3,453.49 L453.8,453.46 L454.3,453.56 L454.8,453.39 L455.3,453.32 L455.8,453.33 L456.3,453.24 L456.8,453.34 L457.3,453.31 L457.8,453.60 L458.3,453.45 L458.8,453.60 L459.3,453.16 L459.8,453.43 L460.3,453.51 L460.8,453.43 L461.3,453.33 L461.8,453.41 L462.3,453.40 L462.8,453.41 L463.3,453.42 L463.8,453.50 L464.3,453.42 L464.8,453.42 L465.3,453.39 L465.8,453.44 L466.3,453.30 L466.8,453.46 L467.3,453.35 L467.8,453.49 L468.3,453.32 L468.8,453.38 L469.3,453.36 L469.8,453.26 L470.3,453.51 L470.8,453.42 L471.3,453.38 L471.8,453.52 L472.3,453.33 L472.8,453.36 L473.3,453.49 L473.8,453.64 L474.3,453.35 L474.8,453.53 L475.3,453.35 L475.8,453.22 L476.3,453.36 L476.8,453.44 L477.3,453.29 L477.8,453.30 L478.3,453.09 L478.8,452.91 L479.3,453.17 L479.8,452.91 L480.3,453.00 L480.8,452.84 L481.3,452.80 L481.8,452.69 L482.3,452.04 L482.8,451.44 L483.3,449.52 L483.8,445.61 L484.3,438.65 L484.8,430.73 L485.1,427.93 L485.3,427.15 L485.6,427.90 L485.8,430.83 L486.3,438.68 L486.8,445.31 L487.3,449.45 L487.8,451.22 L488.3,452.14 L488.8,452.67 L489.3,452.82 L489.8,452.70 L490.3,453.19 L490.8,452.93 L491.3,453.03 L491.8,453.38 L492.3,453.28 L492.8,453.25 L493.3,453.46 L493.8,453.29 L494.3,453.36 L494.8,453.27 L495.3,453.33 L495.8,453.35 L496.3,453.50 L496.8,453.30 L497.3,453.36 L497.8,453.13 L498.3,453.19 L498.8,453.48 L499.3,453.36 L499.8,453.37 L500.3,453.49 L500.8,453.38 L501.3,453.43 L501.8,453.39 L502.3,453.19 L502.8,453.50 L503.3,453.61 L503.8,453.58 L504.3,453.45 L504.8,453.47 L505.3,453.49 L505.8,453.62 L506.3,453.59 L506.8,453.41 L507.3,453.43 L507.8,453.43 L508.3,453.38 L508.8,453.38 L509.3,453.44 L509.8,453.17 L510.3,453.50 L510.8,453.40 L511.3,453.31 L511.8,453.44 L512.3,453.37 L512.8,453.61 L513.3,453.33 L513.8,453.47 L514.3,453.51 L514.8,453.37 L515.3,453.32 L515.8,453.51 L516.3,453.42 L516.8,453.36 L517.3,453.30 L517.8,453.55 L518.3,453.65 L518.8,453.41 L519.3,453.54 L519.8,453.61 L520.3,453.60 L520.8,453.41 L521.3,453.55 L521.8,453.57 L522.3,453.79 L522.8,453.52 L523.3,453.62 L523.8,453.59 L524.3,453.57 L524.8,453.38 L525.3,453.54 L525.8,453.68 L526.3,453.46 L526.8,453.54 L527.3,453.42 L527.8,453.54 L528.3,453.56 L528.8,453.60 L529.3,453.47 L529.8,453.47 L530.3,453.45 L530.8,453.55 L531.3,453.54 L531.8,453.79 L532.3,453.45 L532.8,453.61 L533.3,453.47 L533.8,453.48 L534.3,453.66 L534.8,453.58 L535.3,453.60 L535.8,453.38 L536.3,453.84 L536.8,453.78 L537.3,453.46 L537.8,453.39 L538.3,453.46 L538.8,453.57 L539.3,453.44 L539.8,453.58 L540.3,453.47 L540.8,453.87 L541.3,453.52 L541.8,453.50 L542.3,453.79 L542.8,453.59 L543.3,453.56 L543.8,453.55 L544.3,453.62 L544.8,453.51 L545.3,453.58 L545.8,453.50 L546.3,453.41 L546.8,453.53 L547.3,453.59 L547.8,453.75 L548.3,453.60 L548.8,453.53 L549.3,453.59 L549.8,453.64 L550.3,453.31 L550.8,453.53 L551.3,453.33 L551.8,453.38 L552.3,453.49 L552.8,453.57 L553.3,453.59 L553.8,453.60 L554.3,453.74 L554.8,453.64 L555.3,453.63 L555.8,453.55 L556.3,453.82 L556.8,453.74 L557.3,453.53 L557.8,453.53 L558.3,453.69 L558.8,453.71 L559.3,453.56 L559.8,453.73 L560.3,453.46 L560.8,453.59 L561.3,453.72 L561.8,453.54 L562.3,453.63 L562.8,453.61 L563.3,453.58 L563.8,453.39 L564.3,453.58 L564.8,453.64 L565.3,453.64 L565.8,453.71 L566.3,453.73 L566.8,453.58 L567.3,453.60 L567.8,453.82 L568.3,453.73 L568.8,453.63 L569.3,453.60 L569.8,453.75 L570.3,453.75 L570.8,453.62 L571.3,453.69 L571.8,453.64 L572.3,453.63 L572.8,453.85 L573.3,453.49 L573.8,453.73 L574.3,453.52 L574.8,453.56 L575.3,453.74 L575.8,453.49 L576.3,453.53 L576.8,453.51 L577.3,453.57 L577.8,453.68 L578.3,453.78 L578.8,453.57 L579.3,453.75 L579.8,453.50 L580.3,453.89 L580.8,453.59 L581.3,453.58 L581.8,453.66 L582.3,453.63 L582.8,453.56 L583.3,453.29 L583.8,453.41 L584.3,453.13 L584.6,452.85 L584.8,452.73 L584.9,452.89 L585.1,453.03 L585.3,452.75 L585.8,453.08 L586.3,453.44 L586.8,453.46 L587.3,453.57 L587.8,453.62 L588.3,453.73 L588.8,453.74 L589.3,453.77 L589.8,453.76 L590.3,453.58 L590.8,453.38 L591.3,453.70 L591.8,453.72 L592.3,453.72 L592.8,453.59 L593.3,453.89 L593.8,453.47 L594.3,453.76 L594.8,453.74 L595.3,453.78 L595.8,453.83 L596.3,453.73 L596.8,453.71 L597.3,453.64 L597.8,453.76 L598.3,453.72 L598.8,453.77 L599.3,453.54 L599.8,453.49 L600.3,453.68 L600.8,453.73 L601.3,453.49 L601.8,453.55 L602.3,453.62 L602.8,453.70 L603.3,453.70 L603.8,453.77 L604.3,453.63 L604.8,453.70 L605.3,453.79 L605.8,453.60 L606.3,453.89 L606.8,453.57 L607.3,453.62 L607.8,453.37 L608.3,453.56 L608.8,453.49 L609.3,453.44 L609.8,453.52 L610.3,453.31 L610.8,453.40 L611.3,453.05 L611.8,453.07 L612.3,452.99 L612.8,452.21 L613.3,450.96 L613.8,448.50 L614.3,445.20 L614.8,442.02 L615.1,440.27 L615.3,439.91 L615.4,439.75 L615.6,440.29 L615.8,440.70 L616.3,443.99 L616.8,447.49 L617.3,450.02 L617.8,451.95 L618.3,452.66 L618.8,453.15 L619.3,453.08 L619.8,453.22 L620.3,453.39 L620.8,453.55 L621.3,453.67 L621.8,453.62 L622.3,453.58 L622.8,453.69 L623.3,453.61 L623.8,453.68 L624.3,453.72 L624.8,453.60 L625.3,453.74 L625.8,453.53 L626.3,453.61 L626.8,453.79 L627.3,453.65 L627.8,453.78 L628.3,453.76 L628.8,453.72 L629.3,453.92 L629.8,453.80 L630.3,453.68 L630.8,453.69 L631.3,453.77 L631.8,453.59 L632.3,453.90 L632.8,453.76 L633.3,453.57 L633.8,453.66 L634.3,453.94 L634.8,453.80 L635.3,454.03 L635.8,453.78 L636.3,453.84 L636.8,454.01 L637.3,454.04 L637.8,453.68 L638.3,453.90 L638.8,453.67 L639.3,453.74 L639.8,453.59 L640.3,453.87 L640.8,453.68 L641.3,453.71 L641.8,454.03 L642.3,453.91 L642.8,453.79 L643.3,453.60 L643.8,453.85 L644.3,453.54 L644.8,453.71 L645.3,453.89 L645.8,453.91 L646.3,453.84 L646.8,453.92 L647.3,453.85 L647.8,453.73 L648.3,453.83 L648.8,454.03 L649.3,453.82 L649.8,453.87 L650.3,453.90 L650.8,453.67 L651.3,453.72 L651.8,453.65 L652.3,453.88 L652.8,453.80 L653.3,453.70 L653.8,453.69 L654.3,453.93 L654.8,453.94 L655.3,453.89 L655.8,453.85 L656.3,453.91 L656.8,453.85 L657.3,453.89 L657.8,453.80 L658.3,453.73 L658.8,453.77 L659.3,453.89 L659.8,454.06 L660.3,453.76 L660.8,453.73 L661.3,453.95 L661.8,453.95 L662.3,453.78 L662.8,453.80 L663.3,453.80 L663.8,453.91 L664.3,454.23 L664.8,453.78 L665.3,453.91 L665.8,453.81 L666.3,453.89 L666.8,453.92 L667.3,453.91 L667.8,453.76 L668.3,453.76 L668.8,453.99 L669.3,453.91 L669.8,453.90 L670.3,453.95 L670.8,453.79 L671.3,454.02 L671.8,453.79 L672.3,453.76 L672.8,453.77" fill="none" stroke="#000" stroke-width="2.3" stroke-linejoin="round" stroke-linecap="round"/>
<rect x="38" y="25" width="166.8" height="60.8" fill="#fff" stroke="#8a98b8" stroke-width="1"/>
<line x1="43.7" y1="43" x2="95" y2="43" stroke="#0000ff" stroke-width="3"/>
<line x1="43.7" y1="66.7" x2="95" y2="66.7" stroke="#000" stroke-width="3"/>
<text x="99.5" y="49" font-size="18.5" font-weight="bold" font-style="italic" fill="#0000ff" stroke="#0000ff" stroke-width="0.2" textLength="96.5" lengthAdjust="spacingAndGlyphs">COMPOSITE</text>
<text x="99.5" y="71.6" font-size="17" font-weight="bold" font-style="italic" fill="#000" stroke="#000" stroke-width="0.2" textLength="99.5" lengthAdjust="spacingAndGlyphs">BASE METAL</text>
<polygon points="523.4,3.7 525.9,12.5 534.0,12.5 527.4,17.9 530.0,26.7 523.4,21.3 516.8,26.7 519.4,17.9 512.8,12.5 520.9,12.5" fill="#ffff00" stroke="#5b6b8a" stroke-width="0.8" stroke-linejoin="miter"/>
<text x="538" y="23.6" font-size="21.5" font-weight="bold" font-style="italic" fill="#000" stroke="#000" stroke-width="0.35" textLength="20" lengthAdjust="spacingAndGlyphs">Al</text>
<ellipse cx="523.1" cy="45.8" rx="6.4" ry="6.7" fill="#ed7d31" stroke="#7a7a7a" stroke-width="0.9"/>
<text x="535.5" y="54" font-size="21.5" font-weight="bold" font-style="italic" fill="#000" stroke="#000" stroke-width="0.35" textLength="85.5" lengthAdjust="spacingAndGlyphs">β-Al<tspan font-size="15" dy="5.5">2</tspan><tspan dy="-5.5">Mg</tspan></text>
<polygon points="522.9,64.0 532.6999999999999,75 522.9,86.0 513.1,75" fill="#ff0000" stroke="#6b5050" stroke-width="0.8"/>
<text x="539" y="82.4" font-size="21.5" font-weight="bold" font-style="italic" fill="#000" stroke="#000" stroke-width="0.35" textLength="16" lengthAdjust="spacingAndGlyphs">Ti</text>
<polygon points="284.0,2.0 286.5,10.8 294.6,10.8 288.0,16.2 290.6,25.0 284.0,19.6 277.4,25.0 280.0,16.2 273.4,10.8 281.5,10.8" fill="#ffff00" stroke="#5b6b8a" stroke-width="0.8" stroke-linejoin="miter"/>
<text transform="translate(310.5,34.4) rotate(-90)" font-size="11.3" font-weight="bold" textLength="32" lengthAdjust="spacing" fill="#111" stroke="#111" stroke-width="0.25">(1 1 1)</text>
<polygon points="331.2,133.6 333.7,142.4 341.8,142.4 335.2,147.8 337.8,156.6 331.2,151.2 324.6,156.6 327.2,147.8 320.6,142.4 328.7,142.4" fill="#ffff00" stroke="#5b6b8a" stroke-width="0.8" stroke-linejoin="miter"/>
<text transform="translate(335.4,130.3) rotate(-90)" font-size="11.3" font-weight="bold" textLength="32" lengthAdjust="spacing" fill="#111" stroke="#111" stroke-width="0.25">(2 0 0)</text>
<polygon points="260,197.0 269.8,208 260,219.0 250.2,208" fill="#ff0000" stroke="#6b5050" stroke-width="0.8"/>
<text transform="translate(265.9,192.2) rotate(-90)" font-size="11.3" font-weight="bold" textLength="32" lengthAdjust="spacing" fill="#111" stroke="#111" stroke-width="0.25">(2 2 2)</text>
<ellipse cx="483.9" cy="191.5" rx="6.4" ry="6.7" fill="#ed7d31" stroke="#7a7a7a" stroke-width="0.9"/>
<text transform="translate(488.7,180.2) rotate(-90)" font-size="11.3" font-weight="bold" textLength="32" lengthAdjust="spacing" fill="#111" stroke="#111" stroke-width="0.25">(2 0 0)</text>
<polygon points="583,176.0 592.8,187 583,198.0 573.2,187" fill="#ff0000" stroke="#6b5050" stroke-width="0.8"/>
<text transform="translate(587.4,170.3) rotate(-90)" font-size="11.3" font-weight="bold" textLength="32" lengthAdjust="spacing" fill="#111" stroke="#111" stroke-width="0.25">(3 1 1)</text>
<ellipse cx="600.9" cy="214" rx="6.4" ry="6.7" fill="#ed7d31" stroke="#7a7a7a" stroke-width="0.9"/>
<text transform="translate(604.4,197.3) rotate(-90)" font-size="11.3" font-weight="bold" textLength="32" lengthAdjust="spacing" fill="#111" stroke="#111" stroke-width="0.25">(3 0 1)</text>
<polygon points="617.3,192.1 619.8,200.9 627.9,200.9 621.3,206.3 623.9,215.1 617.3,209.7 610.7,215.1 613.3,206.3 606.7,200.9 614.8,200.9" fill="#ffff00" stroke="#5b6b8a" stroke-width="0.8" stroke-linejoin="miter"/>
<text transform="translate(619.3,185.1) rotate(-90)" font-size="11.3" font-weight="bold" textLength="32" lengthAdjust="spacing" fill="#111" stroke="#111" stroke-width="0.25">(2 2 2)</text>
<polygon points="273.9,242.3 276.4,251.1 284.5,251.1 277.9,256.5 280.5,265.3 273.9,259.9 267.3,265.3 269.9,256.5 263.3,251.1 271.4,251.1" fill="#ffff00" stroke="#5b6b8a" stroke-width="0.8" stroke-linejoin="miter"/>
<text transform="translate(300.0,283.3) rotate(-90)" font-size="11.3" font-weight="bold" textLength="32" lengthAdjust="spacing" fill="#111" stroke="#111" stroke-width="0.25">(1 1 1)</text>
<polygon points="333.2,382.9 335.7,391.7 343.8,391.7 337.2,397.1 339.8,405.9 333.2,400.5 326.6,405.9 329.2,397.1 322.6,391.7 330.7,391.7" fill="#ffff00" stroke="#5b6b8a" stroke-width="0.8" stroke-linejoin="miter"/>
<text transform="translate(338.5,378.6) rotate(-90)" font-size="11.3" font-weight="bold" textLength="32" lengthAdjust="spacing" fill="#111" stroke="#111" stroke-width="0.25">(2 0 0)</text>
<ellipse cx="485.3" cy="414.5" rx="6.4" ry="6.7" fill="#ed7d31" stroke="#7a7a7a" stroke-width="0.9"/>
<text transform="translate(489.5,403.6) rotate(-90)" font-size="11.3" font-weight="bold" textLength="32" lengthAdjust="spacing" fill="#111" stroke="#111" stroke-width="0.25">(2 0 0)</text>
<polygon points="615.6,412.8 618.1,421.6 626.2,421.6 619.6,427.0 622.2,435.8 615.6,430.4 609.0,435.8 611.6,427.0 605.0,421.6 613.1,421.6" fill="#ffff00" stroke="#5b6b8a" stroke-width="0.8" stroke-linejoin="miter"/>
<text transform="translate(620.7,403.0) rotate(-90)" font-size="11.3" font-weight="bold" textLength="32" lengthAdjust="spacing" fill="#111" stroke="#111" stroke-width="0.25">(2 2 2)</text>
<text x="341" y="542.6" text-anchor="middle" font-size="27.6" font-weight="bold" font-style="italic" fill="#548235" stroke="#548235" stroke-width="0.7">2θ</text>
<text transform="translate(21.2,335.8) rotate(-90)" font-size="26.8" font-weight="bold" font-style="italic" fill="#548235" stroke="#548235" stroke-width="0.4" textLength="182" lengthAdjust="spacing">Intensity (cps)</text>
</svg>
</body></html>
